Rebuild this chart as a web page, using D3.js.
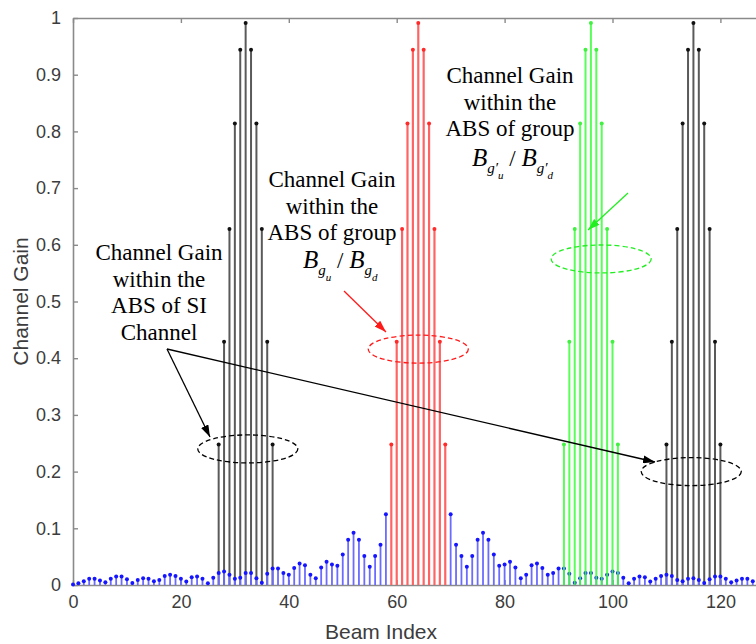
<!DOCTYPE html>
<html>
<head>
<meta charset="utf-8">
<script src="https://cdn.jsdelivr.net/npm/d3@7"></script>
<style>
  body { margin: 0; background: #fff; }
  svg { display: block; }
</style>
</head>
<body>
<div id="chart"></div>
<script>
// beam gains of each active beam subset (same main-lobe shape for every group)
const lobeGain = [0.248, 0.429, 0.628, 0.814, 0.944, 0.991, 0.944, 0.814, 0.628, 0.429, 0.248];
const siLeftBeams = [27, 28, 29, 30, 31, 32, 33, 34, 35, 36, 37];
const guBeams = [59, 60, 61, 62, 63, 64, 65, 66, 67, 68, 69];
const gpBeams = [91, 92, 93, 94, 95, 96, 97, 98, 99, 100, 101];
const siRightBeams = [110, 111, 112, 113, 114, 115, 116, 117, 118, 119, 120];

// side-lobe gain for beam 0..127 (hidden under the red group)
const sideLobe = [
  0.001, 0.003, 0.0065, 0.011, 0.011, 0.008, 0.005, 0.011, 0.015, 0.015,
  0.010, 0.0035, 0.009, 0.012, 0.011, 0.0065, 0.009, 0.016, 0.018, 0.016,
  0.011, 0.006, 0.0135, 0.015, 0.011, 0.003, 0.013, 0.021, 0.024, 0.018,
  0.011, 0.013, 0.021, 0.021, 0.012, 0.004, 0.020, 0.029, 0.029, 0.021,
  0.018, 0.030, 0.038, 0.035, 0.018, 0.012, 0.031, 0.041, 0.036, 0.034,
  0.054, 0.080, 0.092, 0.080, 0.051, 0.032, 0.051, 0.071, 0.125, null,
  null, null, null, null, null, null, null, null, null, null,
  0.125, 0.071, 0.051, 0.032, 0.051, 0.080, 0.092, 0.080, 0.054, 0.034,
  0.036, 0.041, 0.031, 0.012, 0.018, 0.035, 0.038, 0.030, 0.018, 0.021,
  0.029, 0.029, 0.020, 0.004, 0.012, 0.021, 0.021, 0.013, 0.011, 0.018,
  0.024, 0.021, 0.013, 0.003, 0.011, 0.015, 0.0135, 0.006, 0.011, 0.016,
  0.018, 0.016, 0.009, 0.0065, 0.011, 0.012, 0.009, 0.0035, 0.010, 0.015,
  0.015, 0.011, 0.005, 0.008, 0.011, 0.011, 0.0065, 0.003
];

const xTicks = [0, 20, 40, 60, 80, 100, 120];
const yTicks = [0, 0.1, 0.2, 0.3, 0.4, 0.5, 0.6, 0.7, 0.8, 0.9, 1];

const width = 756, height = 644;
const margin = { top: 18, left: 73, bottom: 59 };

const svg = d3.select('#chart').append('svg')
  .attr('width', width)
  .attr('height', height);

const x = d3.scaleLinear().domain([0, 128]).range([margin.left, margin.left + 128 * 5.395]);
const y = d3.scaleLinear().domain([0, 1]).range([height - margin.bottom, margin.top]);

const axisColor = '#8a8a8a';
const labelColor = '#3c3c3c';

// axes (matlab style, ticks inside)
const xAxisBottom = svg.append('g')
  .attr('transform', `translate(0,${y(0)})`)
  .call(d3.axisBottom(x).tickValues(xTicks).tickSizeInner(-5).tickSizeOuter(0).tickPadding(10));
const xAxisTop = svg.append('g')
  .attr('transform', `translate(0,${y(1)})`)
  .call(d3.axisTop(x).tickValues(xTicks).tickSizeInner(-5).tickSizeOuter(0).tickFormat(''));
const yAxis = svg.append('g')
  .attr('transform', `translate(${x(0)},0)`)
  .call(d3.axisLeft(y).tickValues(yTicks).tickSizeInner(-5).tickSizeOuter(0).tickPadding(12)
    .tickFormat(d => d === 0 ? '0' : d === 1 ? '1' : d3.format('.1f')(d)));

[xAxisBottom, xAxisTop, yAxis].forEach(g => {
  g.select('.domain').attr('stroke', axisColor).attr('stroke-width', 1.6);
  g.selectAll('.tick line').attr('stroke', axisColor).attr('stroke-width', 1.4);
  g.selectAll('.tick text')
    .attr('fill', labelColor)
    .style('font-family', '"Liberation Sans", Arial, sans-serif')
    .style('font-size', '18px');
});

// stem plot helper
function stems(beams, values, stemColor, dotColor, stemWidth, opacity) {
  const data = beams.map((b, i) => ({ b, v: values[i] })).filter(d => d.v != null);
  const g = svg.append('g').attr('opacity', opacity);
  g.selectAll('line').data(data).enter().append('line')
    .attr('x1', d => x(d.b)).attr('x2', d => x(d.b))
    .attr('y1', y(0)).attr('y2', d => y(d.v))
    .attr('stroke', stemColor).attr('stroke-width', stemWidth);
  g.selectAll('circle').data(data).enter().append('circle')
    .attr('cx', d => x(d.b)).attr('cy', d => y(d.v))
    .attr('r', 2).attr('fill', dotColor);
}

stems(siLeftBeams, lobeGain, '#5a5a5a', '#111', 2, 1);
stems(siRightBeams, lobeGain, '#5a5a5a', '#111', 2, 1);
stems(d3.range(sideLobe.length), sideLobe, '#6b6bff', '#1515ff', 1.8, 1);
stems(gpBeams, lobeGain, '#3cff3c', '#22ee22', 2, 0.85);
stems(guBeams, lobeGain, '#ff6464', '#ff2a2a', 2.2, 1);

// axis titles
svg.append('text')
  .attr('x', 381).attr('y', 639)
  .attr('text-anchor', 'middle')
  .attr('fill', labelColor)
  .style('font-family', '"Liberation Sans", Arial, sans-serif')
  .style('font-size', '21px')
  .text('Beam Index');
svg.append('text')
  .attr('transform', `translate(28,${(y(0) + y(1)) / 2}) rotate(-90)`)
  .attr('text-anchor', 'middle')
  .attr('fill', labelColor)
  .style('font-family', '"Liberation Sans", Arial, sans-serif')
  .style('font-size', '21px')
  .text('Channel Gain');

// annotations
const defs = svg.append('defs');
function arrowMarker(id, color) {
  defs.append('marker')
    .attr('id', id)
    .attr('viewBox', '0 0 12 8')
    .attr('refX', 12).attr('refY', 4)
    .attr('markerWidth', 12).attr('markerHeight', 8)
    .attr('markerUnits', 'userSpaceOnUse')
    .attr('orient', 'auto')
    .append('path').attr('d', 'M0,0 L12,4 L0,8 Z').attr('fill', color);
}
arrowMarker('arrBlack', '#000');
arrowMarker('arrRed', '#ff1a1a');
arrowMarker('arrGreen', '#22ee22');

const serif = '"Liberation Serif", "Times New Roman", serif';
function noteLines(cx, baseY, lines) {
  const t = svg.append('text')
    .attr('text-anchor', 'middle')
    .style('font-family', serif)
    .style('font-size', '23px')
    .attr('fill', '#000');
  lines.forEach((s, i) => {
    t.append('tspan').attr('x', cx).attr('y', baseY + i * 26.5).text(s);
  });
}
noteLines(159, 260, ['Channel Gain', 'within the', 'ABS of SI', 'Channel']);
noteLines(332, 187, ['Channel Gain', 'within the', 'ABS of group']);
noteLines(510, 83, ['Channel Gain', 'within the', 'ABS of group']);

// B_g symbols
function groupSymbol(x0, baseY, prime) {
  const t = svg.append('text')
    .attr('x', x0).attr('y', baseY)
    .style('font-family', serif)
    .attr('fill', '#000');
  ['u', 'd'].forEach((sub, i) => {
    if (i === 1) {
      t.append('tspan').attr('dy', -13).style('font-size', '23px').style('font-style', 'normal').text(' / ');
    }
    t.append('tspan').attr('dy', i === 0 ? 0 : 0).style('font-size', '25px').style('font-style', 'italic').text('B');
    t.append('tspan').attr('dy', 7).style('font-size', '15px').style('font-style', 'italic').text(prime ? 'g\u2032' : 'g');
    t.append('tspan').attr('dy', 6).style('font-size', '11px').style('font-style', 'italic').text(sub);
  });
}
groupSymbol(303, 268, false);
groupSymbol(472, 166, true);

// dashed ellipses
const ellipses = [
  { b: 32.4, v: 0.240, color: '#000' },
  { b: 64.0, v: 0.416, color: '#ff1a1a' },
  { b: 97.9, v: 0.575, color: '#22ee22' },
  { b: 114.6, v: 0.200, color: '#000' }
];
svg.selectAll('ellipse.note').data(ellipses).enter().append('ellipse')
  .attr('class', 'note')
  .attr('cx', d => x(d.b)).attr('cy', d => y(d.v))
  .attr('rx', 50).attr('ry', 14)
  .attr('fill', 'none')
  .attr('stroke', d => d.color)
  .attr('stroke-width', 1.3)
  .attr('stroke-dasharray', '5,3');

// arrows
const arrows = [
  { x1: 167, y1: 349, x2: 210, y2: 437, color: '#000', m: 'arrBlack' },
  { x1: 167, y1: 349, x2: 655, y2: 462, color: '#000', m: 'arrBlack' },
  { x1: 344, y1: 291, x2: 386, y2: 332, color: '#ff1a1a', m: 'arrRed' },
  { x1: 628, y1: 193, x2: 588, y2: 230, color: '#22ee22', m: 'arrGreen' }
];
svg.selectAll('line.arrow').data(arrows).enter().append('line')
  .attr('class', 'arrow')
  .attr('x1', d => d.x1).attr('y1', d => d.y1)
  .attr('x2', d => d.x2).attr('y2', d => d.y2)
  .attr('stroke', d => d.color)
  .attr('stroke-width', 1.3)
  .attr('marker-end', d => `url(#${d.m})`);
</script>
</body>
</html>
